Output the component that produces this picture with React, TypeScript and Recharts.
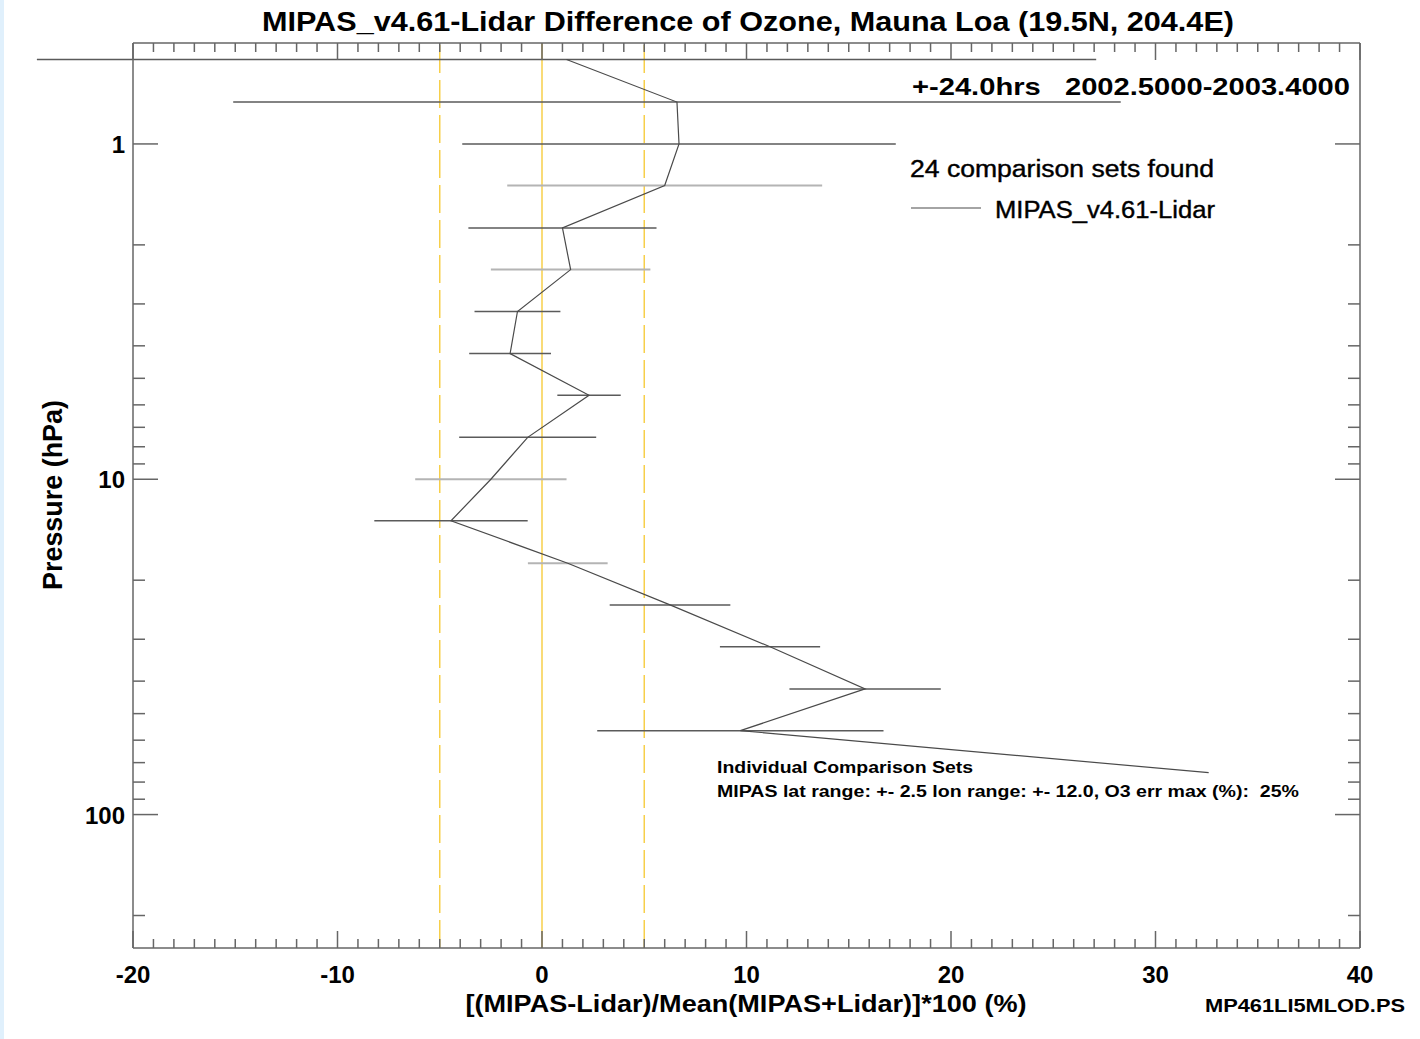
import { ScatterChart, Scatter, XAxis, YAxis, ReferenceLine } from 'recharts';

// pressure levels (hPa), top of profile first
const PRESSURE = [0.56, 0.75, 1.0, 1.33, 1.78, 2.37, 3.16, 4.22, 5.62, 7.5, 10.0, 13.3, 17.8, 23.7, 31.6, 42.2, 56.2, 75.0];
// mean (MIPAS-Lidar)/mean*100 difference, %
const DIFF = [1.2, 6.6, 6.7, 6.0, 1.0, 1.4, -1.2, -1.56, 2.3, -0.7, -2.5, -4.45, 1.26, 6.26, 11.15, 15.8, 9.7, 32.6];
// error bar half width, % (0 = no bar)
const ERR = [25.9, 21.7, 10.6, 7.7, 4.6, 3.9, 2.1, 2.0, 1.55, 3.35, 3.7, 3.75, 1.95, 2.95, 2.45, 3.7, 7.0, 0];

const X_MAJOR = [-20, -10, 0, 10, 20, 30, 40];
const Y_MAJOR = [1, 10, 100];
const Y_MINOR = [2, 3, 4, 5, 6, 7, 8, 9, 20, 30, 40, 50, 60, 70, 80, 90, 200];
const REF_X = [-5, 0, 5];

// levels whose error bar is drawn in light grey
const FAINT = [3, 5, 10, 12];

const FONT = '"Liberation Sans", Arial, Helvetica, sans-serif';
const AXIS = '#666';
const YELLOW = '#f7cf4a';

const xTicks: number[] = [];
for (let v = -20; v <= 40; v++) xTicks.push(v);
const yTicks = [...Y_MAJOR, ...Y_MINOR].sort((a, b) => a - b);

const data = PRESSURE.map((p, i) => ({ x: DIFF[i], p }));

function BottomTick({ x, y, payload }: any) {
  const major = X_MAJOR.includes(payload.value);
  return (
    <g>
      <line x1={x} x2={x} y1={y} y2={y - (major ? 17 : 9)} stroke={AXIS} strokeWidth={1.5} />
      {major && (
        <text x={x} y={y + 35} textAnchor="middle" fontSize={24} fontWeight="bold" fill="#000" fontFamily={FONT}>
          {payload.value}
        </text>
      )}
    </g>
  );
}

function TopTick({ x, y, payload }: any) {
  const major = X_MAJOR.includes(payload.value);
  return <line x1={x} x2={x} y1={y} y2={y + (major ? 17 : 9)} stroke={AXIS} strokeWidth={1.5} />;
}

function LeftTick({ x, y, payload }: any) {
  const major = Y_MAJOR.includes(payload.value);
  return (
    <g>
      <line x1={x} x2={x + (major ? 25 : 12)} y1={y} y2={y} stroke={AXIS} strokeWidth={1.5} />
      {major && (
        <text x={x - 8} y={y + 9} textAnchor="end" fontSize={24} fontWeight="bold" fill="#000" fontFamily={FONT}>
          {payload.value}
        </text>
      )}
    </g>
  );
}

function RightTick({ x, y, payload }: any) {
  const major = Y_MAJOR.includes(payload.value);
  return <line x1={x} x2={x - (major ? 25 : 12)} y1={y} y2={y} stroke={AXIS} strokeWidth={1.5} />;
}

export default function App() {
  return (
    <div style={{ position: 'absolute', left: 0, top: 0, width: 1420, height: 1039, background: '#fff', fontFamily: FONT }}>
      <div style={{ position: 'absolute', left: 0, top: 0, width: 4, height: 1039, background: '#e0f0fc' }} />
      <ScatterChart width={1420} height={1039} margin={{ top: 42, left: 132, right: 59, bottom: 90 }}>
        <XAxis
          type="number"
          dataKey="x"
          domain={[-20, 40]}
          allowDataOverflow
          ticks={xTicks}
          interval={0}
          tickSize={0}
          tickMargin={0}
          height={1}
          tickLine={false}
          axisLine={{ stroke: AXIS, strokeWidth: 1.5 }}
          tick={(props: any) => <BottomTick {...props} />}
        />
        <XAxis
          xAxisId="top"
          orientation="top"
          type="number"
          dataKey="x"
          domain={[-20, 40]}
          allowDataOverflow
          ticks={xTicks}
          interval={0}
          tickSize={0}
          tickMargin={0}
          height={1}
          tickLine={false}
          axisLine={{ stroke: AXIS, strokeWidth: 1.5 }}
          tick={(props: any) => <TopTick {...props} />}
        />
        <YAxis
          type="number"
          dataKey="p"
          scale="log"
          domain={[0.5, 250]}
          reversed
          allowDataOverflow
          ticks={yTicks}
          interval={0}
          tickSize={0}
          tickMargin={0}
          width={1}
          tickLine={false}
          axisLine={{ stroke: AXIS, strokeWidth: 1.5 }}
          tick={(props: any) => <LeftTick {...props} />}
        />
        <YAxis
          yAxisId="right"
          orientation="right"
          type="number"
          dataKey="p"
          scale="log"
          domain={[0.5, 250]}
          reversed
          allowDataOverflow
          ticks={yTicks}
          interval={0}
          tickSize={0}
          tickMargin={0}
          width={1}
          tickLine={false}
          axisLine={{ stroke: AXIS, strokeWidth: 1.5 }}
          tick={(props: any) => <RightTick {...props} />}
        />
        {REF_X.map((v) => (
          <ReferenceLine
            key={'ref' + v}
            x={v}
            stroke={YELLOW}
            strokeWidth={1.5}
            strokeDasharray={v === 0 ? undefined : '28 7'}
          />
        ))}
        {PRESSURE.map((p, i) =>
          ERR[i] > 0 ? (
            <ReferenceLine
              key={'err' + i}
              segment={[
                { x: DIFF[i] - ERR[i], y: p },
                { x: DIFF[i] + ERR[i], y: p },
              ]}
              ifOverflow="visible"
              stroke={FAINT.includes(i) ? '#b4b4b4' : '#5a5a5a'}
              strokeWidth={FAINT.includes(i) ? 2 : 1.5}
            />
          ) : null
        )}
        {/* invisible copy so the top / right frame axes get a domain */}
        <Scatter
          xAxisId="top"
          yAxisId="right"
          data={data}
          shape={() => <g />}
          legendType="none"
          isAnimationActive={false}
        />
        <Scatter
          name="MIPAS_v4.61-Lidar"
          data={data}
          line={{ stroke: '#4a4a4a', strokeWidth: 1.2 }}
          lineType="joint"
          shape={() => <g />}
          isAnimationActive={false}
        />
      </ScatterChart>
      <svg width={1420} height={1039} style={{ position: 'absolute', left: 0, top: 0, pointerEvents: 'none' }}>
        <g fontFamily={FONT} fill="#000">
          <text x={748} y={31} textAnchor="middle" fontSize={27} fontWeight="bold" textLength={972} lengthAdjust="spacingAndGlyphs">
            MIPAS_v4.61-Lidar Difference of Ozone, Mauna Loa (19.5N, 204.4E)
          </text>
          <text x={912} y={95} fontSize={24} fontWeight="bold" textLength={438} lengthAdjust="spacingAndGlyphs" xmlSpace="preserve">
            +-24.0hrs   2002.5000-2003.4000
          </text>
          <text x={910} y={177} fontSize={23} stroke="#000" strokeWidth={0.4} textLength={304} lengthAdjust="spacingAndGlyphs">
            24 comparison sets found
          </text>
          <line x1={911} x2={981} y1={208} y2={208} stroke="#4a4a4a" strokeWidth={1.2} />
          <text x={995} y={218} fontSize={23} stroke="#000" strokeWidth={0.4} textLength={220} lengthAdjust="spacingAndGlyphs">
            MIPAS_v4.61-Lidar
          </text>
          <text x={717} y={773} fontSize={16} fontWeight="bold" textLength={256} lengthAdjust="spacingAndGlyphs">
            Individual Comparison Sets
          </text>
          <text x={717} y={797} fontSize={16} fontWeight="bold" textLength={582} lengthAdjust="spacingAndGlyphs" xmlSpace="preserve">
            MIPAS lat range: +- 2.5 lon range: +- 12.0, O3 err max (%):  25%
          </text>
          <text x={746} y={1012} textAnchor="middle" fontSize={24} fontWeight="bold" textLength={561} lengthAdjust="spacingAndGlyphs">
            [(MIPAS-Lidar)/Mean(MIPAS+Lidar)]*100 (%)
          </text>
          <text x={1205} y={1012} fontSize={19} fontWeight="bold" textLength={200} lengthAdjust="spacingAndGlyphs">
            MP461LI5MLOD.PS
          </text>
          <text
            transform="translate(62,495) rotate(-90)"
            textAnchor="middle"
            fontSize={27}
            fontWeight="bold"
            textLength={190}
            lengthAdjust="spacingAndGlyphs"
          >
            Pressure (hPa)
          </text>
        </g>
      </svg>
    </div>
  );
}
